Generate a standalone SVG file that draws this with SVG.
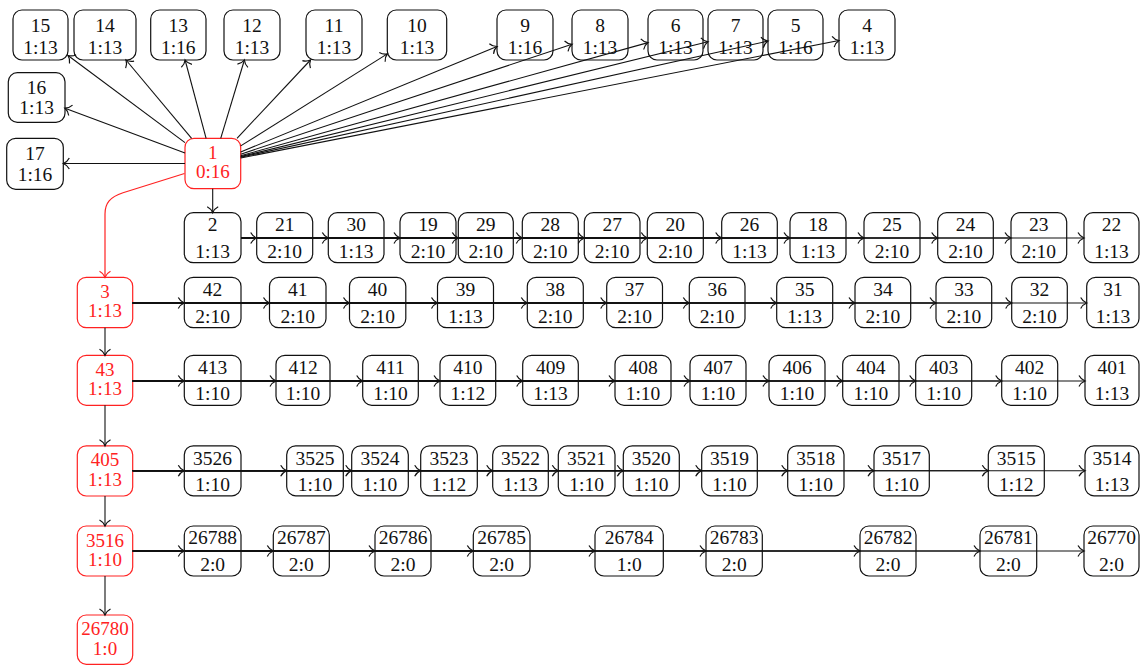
<svg xmlns="http://www.w3.org/2000/svg" width="1140" height="665" viewBox="0 0 1140 665">
  <style>
    .n { fill: none; stroke: #111; stroke-width: 1.2; }
    .r { fill: none; stroke: #f22; stroke-width: 1.2; }
    .t { font-family: "Liberation Serif", "DejaVu Serif", serif; font-size: 19.5px; fill: #111; text-anchor: middle; }
    .tr { font-family: "Liberation Serif", "DejaVu Serif", serif; font-size: 19px; fill: #f22; text-anchor: middle; }
    .e { fill: none; stroke: #111; stroke-width: 1.1; marker-end: url(#ah); }
    .er { fill: none; stroke: #f22; stroke-width: 1.2; marker-end: url(#ahr); }
  </style>
  <defs>
    <marker id="ah" viewBox="-8 -7 10 14" markerWidth="10" markerHeight="14" refX="0" refY="0" orient="auto" markerUnits="userSpaceOnUse" overflow="visible">
      <path d="M-6,-5.5 C-4.5,-2.5 -1.5,-0.6 0,0 C-1.5,0.6 -4.5,2.5 -6,5.5" fill="none" stroke="#111" stroke-width="1.2"/>
    </marker>
    <marker id="ahr" viewBox="-8 -7 10 14" markerWidth="10" markerHeight="14" refX="0" refY="0" orient="auto" markerUnits="userSpaceOnUse" overflow="visible">
      <path d="M-6,-5.5 C-4.5,-2.5 -1.5,-0.6 0,0 C-1.5,0.6 -4.5,2.5 -6,5.5" fill="none" stroke="#f22" stroke-width="1.2"/>
    </marker>
  </defs>

  <!-- top fan targets -->
  <g id="n15"><rect class="n" x="13" y="10" width="55" height="50" rx="9"/><text class="t" x="40.5" y="31.5">15</text><text class="t" x="40.5" y="53.5">1:13</text></g>
  <g id="n14"><rect class="n" x="74" y="10" width="62" height="50" rx="9"/><text class="t" x="105" y="31.5">14</text><text class="t" x="105" y="53.5">1:13</text></g>
  <g id="n13"><rect class="n" x="150.7" y="10" width="55.3" height="50" rx="9"/><text class="t" x="178.3" y="31.5">13</text><text class="t" x="178.3" y="53.5">1:16</text></g>
  <g id="n12"><rect class="n" x="224" y="10" width="56" height="50" rx="9"/><text class="t" x="252" y="31.5">12</text><text class="t" x="252" y="53.5">1:13</text></g>
  <g id="n11"><rect class="n" x="306" y="10" width="56" height="50" rx="9"/><text class="t" x="334" y="31.5">11</text><text class="t" x="334" y="53.5">1:13</text></g>
  <g id="n10"><rect class="n" x="387.3" y="10" width="59.4" height="50" rx="9"/><text class="t" x="417" y="31.5">10</text><text class="t" x="417" y="53.5">1:13</text></g>
  <g id="n9"><rect class="n" x="497" y="10" width="56" height="50" rx="9"/><text class="t" x="525" y="31.5">9</text><text class="t" x="525" y="53.5">1:16</text></g>
  <g id="n8"><rect class="n" x="572" y="10" width="56" height="50" rx="9"/><text class="t" x="600" y="31.5">8</text><text class="t" x="600" y="53.5">1:13</text></g>
  <g id="n6"><rect class="n" x="648" y="10" width="55" height="50" rx="9"/><text class="t" x="675.5" y="31.5">6</text><text class="t" x="675.5" y="53.5">1:13</text></g>
  <g id="n7"><rect class="n" x="708" y="10" width="55" height="50" rx="9"/><text class="t" x="735.5" y="31.5">7</text><text class="t" x="735.5" y="53.5">1:13</text></g>
  <g id="n5"><rect class="n" x="768" y="10" width="55" height="50" rx="9"/><text class="t" x="795.5" y="31.5">5</text><text class="t" x="795.5" y="53.5">1:16</text></g>
  <g id="n4"><rect class="n" x="839" y="10" width="56" height="50" rx="9"/><text class="t" x="867" y="31.5">4</text><text class="t" x="867" y="53.5">1:13</text></g>
  <g id="n16"><rect class="n" x="8.3" y="72.7" width="56.7" height="49.6" rx="9"/><text class="t" x="36.6" y="93.5">16</text><text class="t" x="36.6" y="114">1:13</text></g>
  <g id="n17"><rect class="n" x="6.7" y="138.3" width="56.6" height="51" rx="9"/><text class="t" x="35" y="159.5">17</text><text class="t" x="35" y="180.5">1:16</text></g>

  <!-- root -->
  <g id="n1"><rect class="r" x="185" y="138.3" width="55.7" height="50.4" rx="9"/><text class="tr" x="212.8" y="158.8">1</text><text class="tr" x="212.8" y="178.3">0:16</text></g>

  <!-- row of node 2 -->
  <g id="n2"><rect class="n" x="184.3" y="212.7" width="56.7" height="50" rx="9"/><text class="t" x="212.6" y="231">2</text><text class="t" x="212.6" y="258">1:13</text></g>
  <g id="n21"><rect class="n" x="256.7" y="212.7" width="56" height="50" rx="9"/><text class="t" x="284.7" y="231">21</text><text class="t" x="284.7" y="258">2:10</text></g>
  <g id="n30"><rect class="n" x="328.3" y="212.7" width="55.7" height="50" rx="9"/><text class="t" x="356.2" y="231">30</text><text class="t" x="356.2" y="258">1:13</text></g>
  <g id="n19"><rect class="n" x="400" y="212.7" width="56" height="50" rx="9"/><text class="t" x="428" y="231">19</text><text class="t" x="428" y="258">2:10</text></g>
  <g id="n29"><rect class="n" x="458.3" y="212.7" width="55" height="50" rx="9"/><text class="t" x="485.8" y="231">29</text><text class="t" x="485.8" y="258">2:10</text></g>
  <g id="n28"><rect class="n" x="522.3" y="212.7" width="56" height="50" rx="9"/><text class="t" x="550.3" y="231">28</text><text class="t" x="550.3" y="258">2:10</text></g>
  <g id="n27"><rect class="n" x="584.3" y="212.7" width="55.7" height="50" rx="9"/><text class="t" x="612.2" y="231">27</text><text class="t" x="612.2" y="258">2:10</text></g>
  <g id="n20"><rect class="n" x="647.3" y="212.7" width="56" height="50" rx="9"/><text class="t" x="675.3" y="231">20</text><text class="t" x="675.3" y="258">2:10</text></g>
  <g id="n26"><rect class="n" x="721.7" y="212.7" width="55.6" height="50" rx="9"/><text class="t" x="749.5" y="231">26</text><text class="t" x="749.5" y="258">1:13</text></g>
  <g id="n18"><rect class="n" x="790" y="212.7" width="56" height="50" rx="9"/><text class="t" x="818" y="231">18</text><text class="t" x="818" y="258">1:13</text></g>
  <g id="n25"><rect class="n" x="864" y="212.7" width="56" height="50" rx="9"/><text class="t" x="892" y="231">25</text><text class="t" x="892" y="258">2:10</text></g>
  <g id="n24"><rect class="n" x="937.7" y="212.7" width="55.6" height="50" rx="9"/><text class="t" x="965.5" y="231">24</text><text class="t" x="965.5" y="258">2:10</text></g>
  <g id="n23"><rect class="n" x="1011" y="212.7" width="55.7" height="50" rx="9"/><text class="t" x="1038.8" y="231">23</text><text class="t" x="1038.8" y="258">2:10</text></g>
  <g id="n22"><rect class="n" x="1084" y="212.7" width="55" height="50" rx="9"/><text class="t" x="1111.5" y="231">22</text><text class="t" x="1111.5" y="258">1:13</text></g>

  <!-- row of node 3 -->
  <g id="n3"><rect class="r" x="77.3" y="277.3" width="55.4" height="50.4" rx="9"/><text class="tr" x="105" y="297.8">3</text><text class="tr" x="105" y="317.3">1:13</text></g>
  <g id="n42"><rect class="n" x="184.3" y="277.3" width="56.7" height="50.4" rx="9"/><text class="t" x="212.6" y="296">42</text><text class="t" x="212.6" y="322.5">2:10</text></g>
  <g id="n41"><rect class="n" x="269.5" y="277.3" width="56.5" height="50.4" rx="9"/><text class="t" x="297.8" y="296">41</text><text class="t" x="297.8" y="322.5">2:10</text></g>
  <g id="n40"><rect class="n" x="349.5" y="277.3" width="56.3" height="50.4" rx="9"/><text class="t" x="377.6" y="296">40</text><text class="t" x="377.6" y="322.5">2:10</text></g>
  <g id="n39"><rect class="n" x="437.5" y="277.3" width="56" height="50.4" rx="9"/><text class="t" x="465.5" y="296">39</text><text class="t" x="465.5" y="322.5">1:13</text></g>
  <g id="n38"><rect class="n" x="527.3" y="277.3" width="56" height="50.4" rx="9"/><text class="t" x="555.3" y="296">38</text><text class="t" x="555.3" y="322.5">2:10</text></g>
  <g id="n37"><rect class="n" x="606.7" y="277.3" width="55.8" height="50.4" rx="9"/><text class="t" x="634.6" y="296">37</text><text class="t" x="634.6" y="322.5">2:10</text></g>
  <g id="n36"><rect class="n" x="689.3" y="277.3" width="55.7" height="50.4" rx="9"/><text class="t" x="717.2" y="296">36</text><text class="t" x="717.2" y="322.5">2:10</text></g>
  <g id="n35"><rect class="n" x="776.7" y="277.3" width="56" height="50.4" rx="9"/><text class="t" x="804.7" y="296">35</text><text class="t" x="804.7" y="322.5">1:13</text></g>
  <g id="n34"><rect class="n" x="855" y="277.3" width="55.7" height="50.4" rx="9"/><text class="t" x="882.9" y="296">34</text><text class="t" x="882.9" y="322.5">2:10</text></g>
  <g id="n33"><rect class="n" x="936" y="277.3" width="55.7" height="50.4" rx="9"/><text class="t" x="963.9" y="296">33</text><text class="t" x="963.9" y="322.5">2:10</text></g>
  <g id="n32"><rect class="n" x="1011.7" y="277.3" width="55.6" height="50.4" rx="9"/><text class="t" x="1039.5" y="296">32</text><text class="t" x="1039.5" y="322.5">2:10</text></g>
  <g id="n31"><rect class="n" x="1086.7" y="277.3" width="52.3" height="50.4" rx="9"/><text class="t" x="1113" y="296">31</text><text class="t" x="1113" y="322.5">1:13</text></g>

  <!-- row of node 43 -->
  <g id="n43"><rect class="r" x="77.3" y="355.3" width="55.4" height="50" rx="9"/><text class="tr" x="105" y="375.8">43</text><text class="tr" x="105" y="395.3">1:13</text></g>
  <g id="n413"><rect class="n" x="184.3" y="355.3" width="56.7" height="50" rx="9"/><text class="t" x="212.6" y="373.5">413</text><text class="t" x="212.6" y="399.5">1:10</text></g>
  <g id="n412"><rect class="n" x="276" y="355.3" width="54" height="50" rx="9"/><text class="t" x="303" y="373.5">412</text><text class="t" x="303" y="399.5">1:10</text></g>
  <g id="n411"><rect class="n" x="362.7" y="355.3" width="55.6" height="50" rx="9"/><text class="t" x="390.5" y="373.5">411</text><text class="t" x="390.5" y="399.5">1:10</text></g>
  <g id="n410"><rect class="n" x="440" y="355.3" width="55.7" height="50" rx="9"/><text class="t" x="467.9" y="373.5">410</text><text class="t" x="467.9" y="399.5">1:12</text></g>
  <g id="n409"><rect class="n" x="522.7" y="355.3" width="55.6" height="50" rx="9"/><text class="t" x="550.5" y="373.5">409</text><text class="t" x="550.5" y="399.5">1:13</text></g>
  <g id="n408"><rect class="n" x="615" y="355.3" width="56" height="50" rx="9"/><text class="t" x="643" y="373.5">408</text><text class="t" x="643" y="399.5">1:10</text></g>
  <g id="n407"><rect class="n" x="690" y="355.3" width="56" height="50" rx="9"/><text class="t" x="718" y="373.5">407</text><text class="t" x="718" y="399.5">1:10</text></g>
  <g id="n406"><rect class="n" x="769" y="355.3" width="56" height="50" rx="9"/><text class="t" x="797" y="373.5">406</text><text class="t" x="797" y="399.5">1:10</text></g>
  <g id="n404"><rect class="n" x="842.7" y="355.3" width="56.3" height="50" rx="9"/><text class="t" x="870.9" y="373.5">404</text><text class="t" x="870.9" y="399.5">1:10</text></g>
  <g id="n403"><rect class="n" x="915.7" y="355.3" width="56" height="50" rx="9"/><text class="t" x="943.7" y="373.5">403</text><text class="t" x="943.7" y="399.5">1:10</text></g>
  <g id="n402"><rect class="n" x="1001.7" y="355.3" width="56" height="50" rx="9"/><text class="t" x="1029.7" y="373.5">402</text><text class="t" x="1029.7" y="399.5">1:10</text></g>
  <g id="n401"><rect class="n" x="1085" y="355.3" width="54" height="50" rx="9"/><text class="t" x="1112" y="373.5">401</text><text class="t" x="1112" y="399.5">1:13</text></g>

  <!-- row of node 405 -->
  <g id="n405"><rect class="r" x="77.3" y="445.8" width="55.4" height="50.2" rx="9"/><text class="tr" x="105" y="466">405</text><text class="tr" x="105" y="485.5">1:13</text></g>
  <g id="n3526"><rect class="n" x="184.3" y="445.8" width="56.7" height="50" rx="9"/><text class="t" x="212.6" y="465">3526</text><text class="t" x="212.6" y="491">1:10</text></g>
  <g id="n3525"><rect class="n" x="286.7" y="445.8" width="56.6" height="50" rx="9"/><text class="t" x="315" y="465">3525</text><text class="t" x="315" y="491">1:10</text></g>
  <g id="n3524"><rect class="n" x="351.7" y="445.8" width="56.6" height="50" rx="9"/><text class="t" x="380" y="465">3524</text><text class="t" x="380" y="491">1:10</text></g>
  <g id="n3523"><rect class="n" x="420.7" y="445.8" width="56.6" height="50" rx="9"/><text class="t" x="449" y="465">3523</text><text class="t" x="449" y="491">1:12</text></g>
  <g id="n3522"><rect class="n" x="492.7" y="445.8" width="55.6" height="50" rx="9"/><text class="t" x="520.5" y="465">3522</text><text class="t" x="520.5" y="491">1:13</text></g>
  <g id="n3521"><rect class="n" x="558.3" y="445.8" width="56.7" height="50" rx="9"/><text class="t" x="586.6" y="465">3521</text><text class="t" x="586.6" y="491">1:10</text></g>
  <g id="n3520"><rect class="n" x="623.3" y="445.8" width="56" height="50" rx="9"/><text class="t" x="651.3" y="465">3520</text><text class="t" x="651.3" y="491">1:10</text></g>
  <g id="n3519"><rect class="n" x="701.7" y="445.8" width="55.6" height="50" rx="9"/><text class="t" x="729.5" y="465">3519</text><text class="t" x="729.5" y="491">1:10</text></g>
  <g id="n3518"><rect class="n" x="787.7" y="445.8" width="56.3" height="50" rx="9"/><text class="t" x="815.8" y="465">3518</text><text class="t" x="815.8" y="491">1:10</text></g>
  <g id="n3517"><rect class="n" x="874" y="445.8" width="55.3" height="50" rx="9"/><text class="t" x="901.6" y="465">3517</text><text class="t" x="901.6" y="491">1:10</text></g>
  <g id="n3515"><rect class="n" x="988.3" y="445.8" width="56" height="50" rx="9"/><text class="t" x="1016.3" y="465">3515</text><text class="t" x="1016.3" y="491">1:12</text></g>
  <g id="n3514"><rect class="n" x="1085" y="445.8" width="54" height="50" rx="9"/><text class="t" x="1112" y="465">3514</text><text class="t" x="1112" y="491">1:13</text></g>

  <!-- row of node 3516 -->
  <g id="n3516"><rect class="r" x="77.3" y="526" width="55.4" height="50" rx="9"/><text class="tr" x="105" y="546.5">3516</text><text class="tr" x="105" y="566">1:10</text></g>
  <g id="n26788"><rect class="n" x="184.3" y="526" width="56.7" height="50" rx="9"/><text class="t" x="212.6" y="544">26788</text><text class="t" x="212.6" y="571">2:0</text></g>
  <g id="n26787"><rect class="n" x="273.3" y="526" width="56" height="50" rx="9"/><text class="t" x="301.3" y="544">26787</text><text class="t" x="301.3" y="571">2:0</text></g>
  <g id="n26786"><rect class="n" x="375" y="526" width="56" height="50" rx="9"/><text class="t" x="403" y="544">26786</text><text class="t" x="403" y="571">2:0</text></g>
  <g id="n26785"><rect class="n" x="473.3" y="526" width="56.7" height="50" rx="9"/><text class="t" x="501.6" y="544">26785</text><text class="t" x="501.6" y="571">2:0</text></g>
  <g id="n26784"><rect class="n" x="595" y="526" width="68.3" height="50" rx="9"/><text class="t" x="629.2" y="544">26784</text><text class="t" x="629.2" y="571">1:0</text></g>
  <g id="n26783"><rect class="n" x="706" y="526" width="56.3" height="50" rx="9"/><text class="t" x="734.2" y="544">26783</text><text class="t" x="734.2" y="571">2:0</text></g>
  <g id="n26782"><rect class="n" x="860" y="526" width="56" height="50" rx="9"/><text class="t" x="888" y="544">26782</text><text class="t" x="888" y="571">2:0</text></g>
  <g id="n26781"><rect class="n" x="980" y="526" width="56.7" height="50" rx="9"/><text class="t" x="1008.4" y="544">26781</text><text class="t" x="1008.4" y="571">2:0</text></g>
  <g id="n26770"><rect class="n" x="1084" y="526" width="55" height="50" rx="9"/><text class="t" x="1111.5" y="544">26770</text><text class="t" x="1111.5" y="571">2:0</text></g>

  <g id="n26780"><rect class="r" x="77.3" y="615" width="55.4" height="49.3" rx="9"/><text class="tr" x="105" y="635.3">26780</text><text class="tr" x="105" y="654.8">1:0</text></g>

  <!-- connectors -->
  <g id="edges">
    <!-- fan out of node 1 -->
    <line class="e" x1="185" y1="142.6" x2="68" y2="55.5"/>
    <line class="e" x1="191.6" y1="138.3" x2="126" y2="60"/>
    <line class="e" x1="206.1" y1="138.3" x2="185.1" y2="60"/>
    <line class="e" x1="220.7" y1="138.3" x2="244.4" y2="60"/>
    <line class="e" x1="237" y1="138.3" x2="310.5" y2="60"/>
    <line class="e" x1="240.7" y1="145.9" x2="387.3" y2="53.9"/>
    <line class="e" x1="240.7" y1="152" x2="497" y2="46.5"/>
    <line class="e" x1="240.7" y1="154.2" x2="572" y2="44.3"/>
    <line class="e" x1="240.7" y1="155.7" x2="648" y2="42.6"/>
    <line class="e" x1="240.7" y1="156.6" x2="708" y2="41.8"/>
    <line class="e" x1="240.7" y1="157.3" x2="768" y2="41.1"/>
    <line class="e" x1="240.7" y1="158" x2="839" y2="40.5"/>
    <line class="e" x1="185" y1="153" x2="65" y2="108.2"/>
    <line class="e" x1="185" y1="163.5" x2="63.3" y2="163.5"/>
    <line class="e" x1="212.7" y1="188.7" x2="212.7" y2="212.7"/>
    <path class="er" d="M184.5,173.5 L123,192.7 C110,197 105,203 105,214 L105,277.3"/>

    <!-- node 2 row -->
    <line class="e" x1="241" y1="238" x2="256.7" y2="238"/>
    <line class="e" x1="241" y1="238" x2="328.3" y2="238"/>
    <line class="e" x1="241" y1="238" x2="400" y2="238"/>
    <line class="e" x1="241" y1="238" x2="458.3" y2="238"/>
    <line class="e" x1="241" y1="238" x2="522.3" y2="238"/>
    <line class="e" x1="241" y1="238" x2="584.3" y2="238"/>
    <line class="e" x1="241" y1="238" x2="647.3" y2="238"/>
    <line class="e" x1="241" y1="238" x2="721.7" y2="238"/>
    <line class="e" x1="241" y1="238" x2="790" y2="238"/>
    <line class="e" x1="241" y1="238" x2="864" y2="238"/>
    <line class="e" x1="241" y1="238" x2="937.7" y2="238"/>
    <line class="e" x1="241" y1="238" x2="1011" y2="238"/>
    <line class="e" x1="241" y1="238" x2="1084" y2="238"/>

    <!-- node 3 row -->
    <line class="e" x1="132.7" y1="303" x2="184.3" y2="303"/>
    <line class="e" x1="132.7" y1="303" x2="269.5" y2="303"/>
    <line class="e" x1="132.7" y1="303" x2="349.5" y2="303"/>
    <line class="e" x1="132.7" y1="303" x2="437.5" y2="303"/>
    <line class="e" x1="132.7" y1="303" x2="527.3" y2="303"/>
    <line class="e" x1="132.7" y1="303" x2="606.7" y2="303"/>
    <line class="e" x1="132.7" y1="303" x2="689.3" y2="303"/>
    <line class="e" x1="132.7" y1="303" x2="776.7" y2="303"/>
    <line class="e" x1="132.7" y1="303" x2="855" y2="303"/>
    <line class="e" x1="132.7" y1="303" x2="936" y2="303"/>
    <line class="e" x1="132.7" y1="303" x2="1011.7" y2="303"/>
    <line class="e" x1="132.7" y1="303" x2="1086.7" y2="303"/>

    <!-- node 43 row -->
    <line class="e" x1="132.7" y1="381" x2="184.3" y2="381"/>
    <line class="e" x1="132.7" y1="381" x2="276" y2="381"/>
    <line class="e" x1="132.7" y1="381" x2="362.7" y2="381"/>
    <line class="e" x1="132.7" y1="381" x2="440" y2="381"/>
    <line class="e" x1="132.7" y1="381" x2="522.7" y2="381"/>
    <line class="e" x1="132.7" y1="381" x2="615" y2="381"/>
    <line class="e" x1="132.7" y1="381" x2="690" y2="381"/>
    <line class="e" x1="132.7" y1="381" x2="769" y2="381"/>
    <line class="e" x1="132.7" y1="381" x2="842.7" y2="381"/>
    <line class="e" x1="132.7" y1="381" x2="915.7" y2="381"/>
    <line class="e" x1="132.7" y1="381" x2="1001.7" y2="381"/>
    <line class="e" x1="132.7" y1="381" x2="1085" y2="381"/>

    <!-- node 405 row -->
    <line class="e" x1="132.7" y1="470.7" x2="184.3" y2="470.7"/>
    <line class="e" x1="132.7" y1="470.7" x2="286.7" y2="470.7"/>
    <line class="e" x1="132.7" y1="470.7" x2="351.7" y2="470.7"/>
    <line class="e" x1="132.7" y1="470.7" x2="420.7" y2="470.7"/>
    <line class="e" x1="132.7" y1="470.7" x2="492.7" y2="470.7"/>
    <line class="e" x1="132.7" y1="470.7" x2="558.3" y2="470.7"/>
    <line class="e" x1="132.7" y1="470.7" x2="623.3" y2="470.7"/>
    <line class="e" x1="132.7" y1="470.7" x2="701.7" y2="470.7"/>
    <line class="e" x1="132.7" y1="470.7" x2="787.7" y2="470.7"/>
    <line class="e" x1="132.7" y1="470.7" x2="874" y2="470.7"/>
    <line class="e" x1="132.7" y1="470.7" x2="988.3" y2="470.7"/>
    <line class="e" x1="132.7" y1="470.7" x2="1085" y2="470.7"/>

    <!-- node 3516 row -->
    <line class="e" x1="132.7" y1="551" x2="184.3" y2="551"/>
    <line class="e" x1="132.7" y1="551" x2="273.3" y2="551"/>
    <line class="e" x1="132.7" y1="551" x2="375" y2="551"/>
    <line class="e" x1="132.7" y1="551" x2="473.3" y2="551"/>
    <line class="e" x1="132.7" y1="551" x2="595" y2="551"/>
    <line class="e" x1="132.7" y1="551" x2="706" y2="551"/>
    <line class="e" x1="132.7" y1="551" x2="860" y2="551"/>
    <line class="e" x1="132.7" y1="551" x2="980" y2="551"/>
    <line class="e" x1="132.7" y1="551" x2="1084" y2="551"/>

    <!-- red column -->
    <line class="e" x1="105" y1="327.7" x2="105" y2="355.3"/>
    <line class="e" x1="105" y1="405.3" x2="105" y2="445.8"/>
    <line class="e" x1="105" y1="496" x2="105" y2="526"/>
    <line class="e" x1="105" y1="576" x2="105" y2="615"/>
  </g>
</svg>
